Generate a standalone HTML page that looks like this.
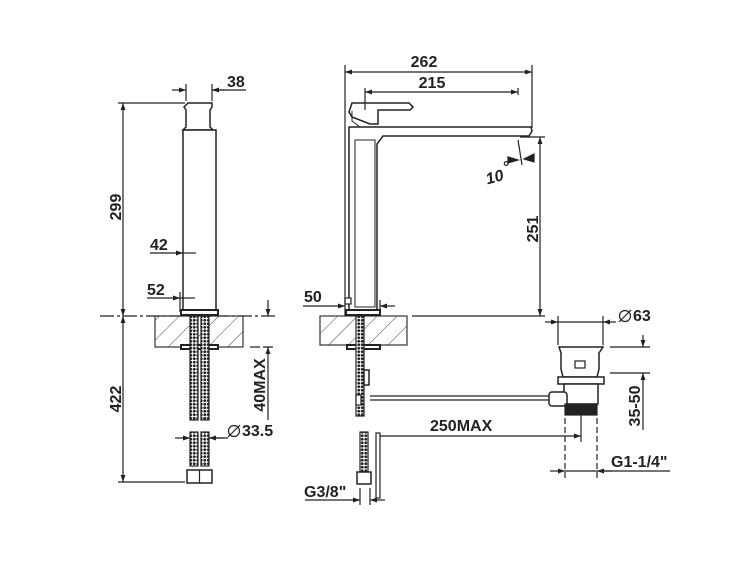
<!DOCTYPE html>
<html><head><meta charset="utf-8"><style>
html,body{margin:0;padding:0;background:#fff}
svg{display:block}
text{font-family:"Liberation Sans",Arial,sans-serif;font-weight:bold;font-size:16px;fill:#222}
</style></head><body>
<svg width="750" height="563" viewBox="0 0 750 563" xmlns="http://www.w3.org/2000/svg">
<defs>
<marker id="a" viewBox="0 0 10 10" refX="10" refY="5" markerWidth="9" markerHeight="7" orient="auto-start-reverse" markerUnits="userSpaceOnUse"><path d="M0,1.5 L10,5 L0,8.5 z" fill="#222"/></marker>
<pattern id="h" width="14" height="14" patternUnits="userSpaceOnUse" patternTransform="rotate(45)"><line x1="0" y1="0" x2="0" y2="14" stroke="#444" stroke-width="1"/></pattern>
<pattern id="br" width="3.5" height="3.5" patternUnits="userSpaceOnUse"><rect width="3.5" height="3.5" fill="#fff"/><circle cx="1.75" cy="1.75" r="1.4" fill="#222"/></pattern>
</defs>
<g stroke="#222" fill="none" stroke-width="1.2">
<!-- LEFT VIEW -->
<line x1="100" y1="316" x2="275" y2="316" stroke-dasharray="14,3,3,3"/>
<rect x="155" y="316" width="88" height="31" fill="url(#h)" stroke="#333"/>
<path d="M188,103 h24 v4 l-2,3 v17 l3,3 v-0 h-30 l3,-3 v-17 l-2,-3z" stroke-width="1.5" fill="#fff"/>
<rect x="183" y="130" width="33" height="180" fill="#fff" stroke-width="1.5"/>
<rect x="181" y="310" width="37" height="5" fill="#fff" stroke-width="2"/>
<rect x="181" y="345" width="37" height="4" fill="#fff" stroke-width="2"/>
<rect x="190" y="316" width="8" height="104" fill="url(#br)"/>
<rect x="201" y="316" width="8" height="104" fill="url(#br)"/>
<rect x="190" y="432" width="8" height="34" fill="url(#br)"/>
<rect x="201" y="432" width="8" height="34" fill="url(#br)"/>
<rect x="187" y="470" width="25" height="13" fill="#fff" stroke-width="1.5"/>
<line x1="199.5" y1="470" x2="199.5" y2="483"/>
<!-- dims left -->
<line x1="118" y1="103" x2="185" y2="103"/>
<line x1="118" y1="482" x2="185" y2="482"/>
<line x1="123" y1="103" x2="123" y2="316" marker-start="url(#a)" marker-end="url(#a)"/>
<line x1="123" y1="316" x2="123" y2="482" marker-start="url(#a)" marker-end="url(#a)"/>
<line x1="186" y1="84" x2="186" y2="101"/>
<line x1="212" y1="84" x2="212" y2="101"/>
<line x1="172" y1="90" x2="186" y2="90" marker-end="url(#a)"/>
<line x1="225" y1="90" x2="212" y2="90" marker-end="url(#a)"/>
<line x1="212" y1="90" x2="246" y2="90"/>
<line x1="150" y1="253" x2="183" y2="253" marker-end="url(#a)"/>
<line x1="183" y1="253" x2="196" y2="253"/>
<line x1="147" y1="298" x2="180" y2="298" marker-end="url(#a)"/>
<line x1="180" y1="298" x2="195" y2="298"/>
<line x1="180" y1="292" x2="180" y2="312"/>
<line x1="250" y1="347" x2="275" y2="347" stroke-dasharray="10,3"/>
<line x1="268" y1="300" x2="268" y2="316" marker-end="url(#a)"/>
<line x1="268" y1="420" x2="268" y2="347" marker-end="url(#a)"/>
<line x1="175" y1="438" x2="190" y2="438" marker-end="url(#a)"/>
<line x1="224" y1="438" x2="209" y2="438" marker-end="url(#a)"/>
<line x1="209" y1="438" x2="228" y2="438"/>
<!-- RIGHT VIEW -->
<rect x="320" y="316" width="87" height="29" fill="url(#h)" stroke="#333"/>
<path d="M349,112 l3,-9 h57 l4,4 l-3,3 h-32 v14 h-8 l-18,-7 z" fill="#fff" stroke-width="1.5"/>
<path d="M352,111 v10 l8,6" stroke-width="1"/>
<path d="M349,127 h182 l1,4 l-3,5 h-146 l-6,8 v166 h-28 v-178 z" fill="#fff" stroke-width="1.5"/>
<path d="M355,140 h20 v167 h-20z" stroke-width="1"/>
<rect x="345" y="298" width="6" height="6" fill="#fff"/>
<rect x="346" y="310" width="34" height="5" fill="#fff" stroke-width="2"/>
<rect x="347" y="345" width="33" height="4" fill="#fff" stroke-width="2"/>
<rect x="356" y="316" width="8" height="100" fill="url(#br)"/>
<rect x="364" y="370" width="5" height="15" fill="#fff" stroke-width="1.5"/>
<rect x="360" y="432" width="8" height="40" fill="url(#br)"/>
<rect x="357" y="472" width="14" height="12" fill="#fff" stroke-width="1.5"/>
<rect x="376" y="433" width="4" height="65" fill="#fff" stroke-width="1.2"/>
<rect x="356" y="395" width="5" height="10" fill="#fff"/>
<line x1="370" y1="396" x2="550" y2="396"/><line x1="370" y1="400" x2="550" y2="400"/>
<!-- drain -->
<path d="M559,347 h44 l-4,6 v16 l-2,8 h-34 l-2,-8 v-16 z" fill="#fff" stroke-width="1.5"/>
<rect x="575" y="361" width="10" height="7"/>
<rect x="558" y="377" width="46" height="7" fill="#fff" stroke-width="1.5"/>
<rect x="564" y="384" width="34" height="20" fill="#fff" stroke-width="1.5"/>
<rect x="549" y="392" width="18" height="14" rx="3" fill="#fff" stroke-width="1.5"/>
<rect x="565" y="404" width="32" height="11" fill="#222"/>
<!-- dims right -->
<line x1="345" y1="65" x2="345" y2="316"/>
<line x1="532" y1="65" x2="532" y2="128"/>
<line x1="365" y1="88" x2="365" y2="110"/>
<line x1="518" y1="88" x2="518" y2="95"/>
<line x1="345" y1="72" x2="532" y2="72" marker-start="url(#a)" marker-end="url(#a)"/>
<line x1="365" y1="92" x2="518" y2="92" marker-start="url(#a)" marker-end="url(#a)"/>
<line x1="520" y1="137" x2="545" y2="137"/>
<line x1="412" y1="316" x2="545" y2="316"/>
<line x1="540" y1="137" x2="540" y2="316" marker-start="url(#a)" marker-end="url(#a)"/>
<line x1="518" y1="140" x2="522" y2="165"/>
<path d="M508,157 l10,3 l-10,3z M534,154 l-10,5 l10,3z" fill="#222"/>
<line x1="303" y1="306" x2="345" y2="306" marker-end="url(#a)"/>
<line x1="395" y1="306" x2="380" y2="306" marker-end="url(#a)"/>
<line x1="380" y1="300" x2="380" y2="312"/>
<line x1="558" y1="316" x2="558" y2="345"/>
<line x1="603" y1="316" x2="603" y2="345"/>
<line x1="545" y1="322" x2="558" y2="322" marker-end="url(#a)"/>
<line x1="616" y1="322" x2="603" y2="322" marker-end="url(#a)"/>
<line x1="558" y1="322" x2="603" y2="322"/>
<line x1="610" y1="347" x2="650" y2="347"/>
<line x1="610" y1="373" x2="650" y2="373"/>
<line x1="643" y1="335" x2="643" y2="347" marker-end="url(#a)"/>
<line x1="643" y1="430" x2="643" y2="373" marker-end="url(#a)"/>
<line x1="380" y1="436" x2="581" y2="436" marker-end="url(#a)"/>
<line x1="581" y1="415" x2="581" y2="442"/>
<line x1="565" y1="418" x2="565" y2="478" stroke-dasharray="6,3"/>
<line x1="597" y1="418" x2="597" y2="478" stroke-dasharray="6,3"/>
<line x1="550" y1="471" x2="565" y2="471" marker-end="url(#a)"/>
<line x1="612" y1="471" x2="597" y2="471" marker-end="url(#a)"/>
<line x1="565" y1="471" x2="670" y2="471"/>
<line x1="360" y1="488" x2="360" y2="505"/>
<line x1="370" y1="488" x2="370" y2="505"/>
<line x1="305" y1="500" x2="360" y2="500" marker-end="url(#a)"/>
<line x1="385" y1="500" x2="370" y2="500" marker-end="url(#a)"/>
<circle cx="234" cy="431" r="5.5"/><line x1="228" y1="437" x2="240" y2="425"/>
<circle cx="625" cy="316" r="5.5"/><line x1="619" y1="322" x2="631" y2="310"/>
</g>
<text x="227" y="87">38</text>
<text x="150" y="250">42</text>
<text x="147" y="295">52</text>
<text x="242" y="436">33.5</text>
<text transform="translate(121,207) rotate(-90)" text-anchor="middle">299</text>
<text transform="translate(121,399) rotate(-90)" text-anchor="middle">422</text>
<text transform="translate(265,385) rotate(-90)" text-anchor="middle">40MAX</text>
<text x="424" y="67" text-anchor="middle">262</text>
<text x="432" y="88" text-anchor="middle">215</text>
<text transform="translate(538,229) rotate(-90)" text-anchor="middle">251</text>
<text x="486" y="182" font-style="italic" transform="rotate(-15,496,178)">10</text>
<text x="503" y="172" font-size="11">°</text>
<text x="304" y="302">50</text>
<text x="633" y="321">63</text>
<text transform="translate(640,406) rotate(-90)" text-anchor="middle">35-50</text>
<text x="430" y="431">250MAX</text>
<text x="611" y="467">G1-1/4"</text>
<text x="304" y="497">G3/8"</text>
</svg>
</body></html>
